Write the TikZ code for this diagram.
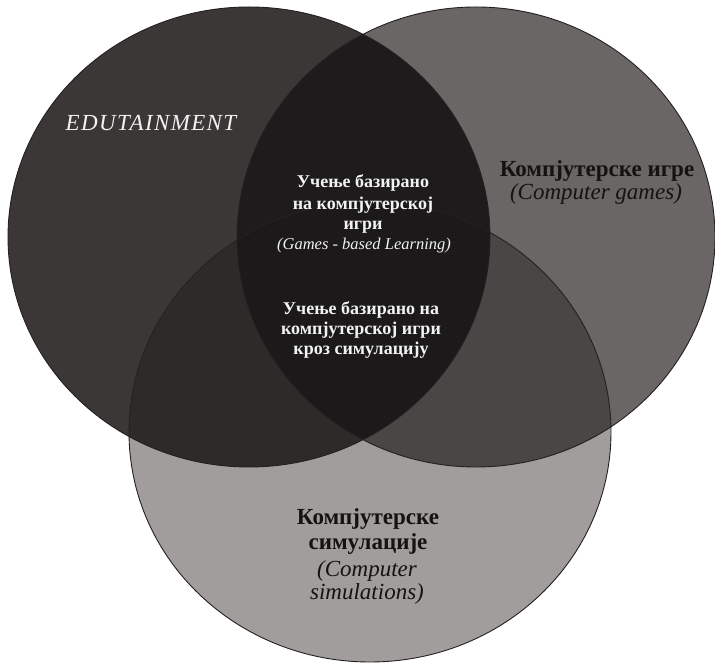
\documentclass[tikz,border=0pt]{standalone}
\usepackage{fontspec}
\setmainfont{Liberation Serif}
\definecolor{cL}{HTML}{3B3737}
\definecolor{cR}{HTML}{6A6665}
\definecolor{cB}{HTML}{A19D9C}
\definecolor{cLR}{HTML}{1D1B1B}
\definecolor{cLB}{HTML}{2E2A2A}
\definecolor{cRB}{HTML}{4A4645}
\definecolor{cLRB}{HTML}{1B1919}
\definecolor{edge}{HTML}{242020}
\definecolor{darktext}{HTML}{151212}
\definecolor{lighttext}{HTML}{F2F2F2}
\tikzset{
  rim/.style={draw=edge, line width=0.9pt},
  lab/.style={anchor=base, inner sep=0pt},
  wbold/.style={lab, text=lighttext, font=\fontsize{18}{20}\selectfont\bfseries},
  wital/.style={lab, text=lighttext, font=\fontsize{16.5}{20}\selectfont\itshape},
  dbold/.style={lab, text=darktext, font=\fontsize{23}{26}\selectfont\bfseries},
  dital/.style={lab, text=darktext, font=\fontsize{23}{26}\selectfont\itshape},
  edustyle/.style={lab, text=lighttext, font=\fontsize{23}{26}\selectfont\itshape\addfontfeature{LetterSpace=6}},
}
\begin{document}
\begin{tikzpicture}[x=1pt,y=1pt]
\useasboundingbox (0,0) rectangle (715,663);
\fill[white] (0,0) rectangle (715,663);
% base discs
\fill[cL] (249,426) ellipse [x radius=241pt, y radius=230pt];
\fill[cR] (476,426) ellipse [x radius=239pt, y radius=230pt];
\fill[cB] (370,231) ellipse [x radius=241pt, y radius=230pt];
% pairwise overlaps
\begin{scope}
  \clip (249,426) ellipse [x radius=241pt, y radius=230pt];
  \fill[cLR] (476,426) ellipse [x radius=239pt, y radius=230pt];
  \fill[cLB] (370,231) ellipse [x radius=241pt, y radius=230pt];
\end{scope}
\begin{scope}
  \clip (476,426) ellipse [x radius=239pt, y radius=230pt];
  \fill[cRB] (370,231) ellipse [x radius=241pt, y radius=230pt];
\end{scope}
% triple overlap
\begin{scope}
  \clip (249,426) ellipse [x radius=241pt, y radius=230pt];
  \clip (476,426) ellipse [x radius=239pt, y radius=230pt];
  \fill[cLRB] (370,231) ellipse [x radius=241pt, y radius=230pt];
\end{scope}
% outlines
\draw[rim] (249,426) ellipse [x radius=241pt, y radius=230pt];
\draw[rim] (476,426) ellipse [x radius=239pt, y radius=230pt];
\draw[rim] (370,231) ellipse [x radius=241pt, y radius=230pt];
% labels
\node[edustyle] (edu) at (151,532) {EDUTAINMENT};
\node[dbold] (cg1) at (597,486) {Компјутерске игре};
\node[dital] (cg2) at (596,463) {(Computer games)};
\node[wbold] (gb1) at (363,475) {Учење базирано};
\node[wbold] (gb2) at (363,453) {на компјутерској};
\node[wbold] (gb3) at (363,433) {игри};
\node[wital] (gb4) at (364,413) {(Games - based Learning)};
\node[wbold] (gs1) at (361,348) {Учење базирано на};
\node[wbold] (gs2) at (361,328) {компјутерској игри};
\node[wbold] (gs3) at (361,308) {кроз симулацију};
\node[dbold] (cs1) at (368,138) {Компјутерске};
\node[dbold] (cs2) at (368,113) {симулације};
\node[dital] (cs3) at (367,86) {(Computer};
\node[dital] (cs4) at (367,63) {simulations)};
\end{tikzpicture}
\end{document}
